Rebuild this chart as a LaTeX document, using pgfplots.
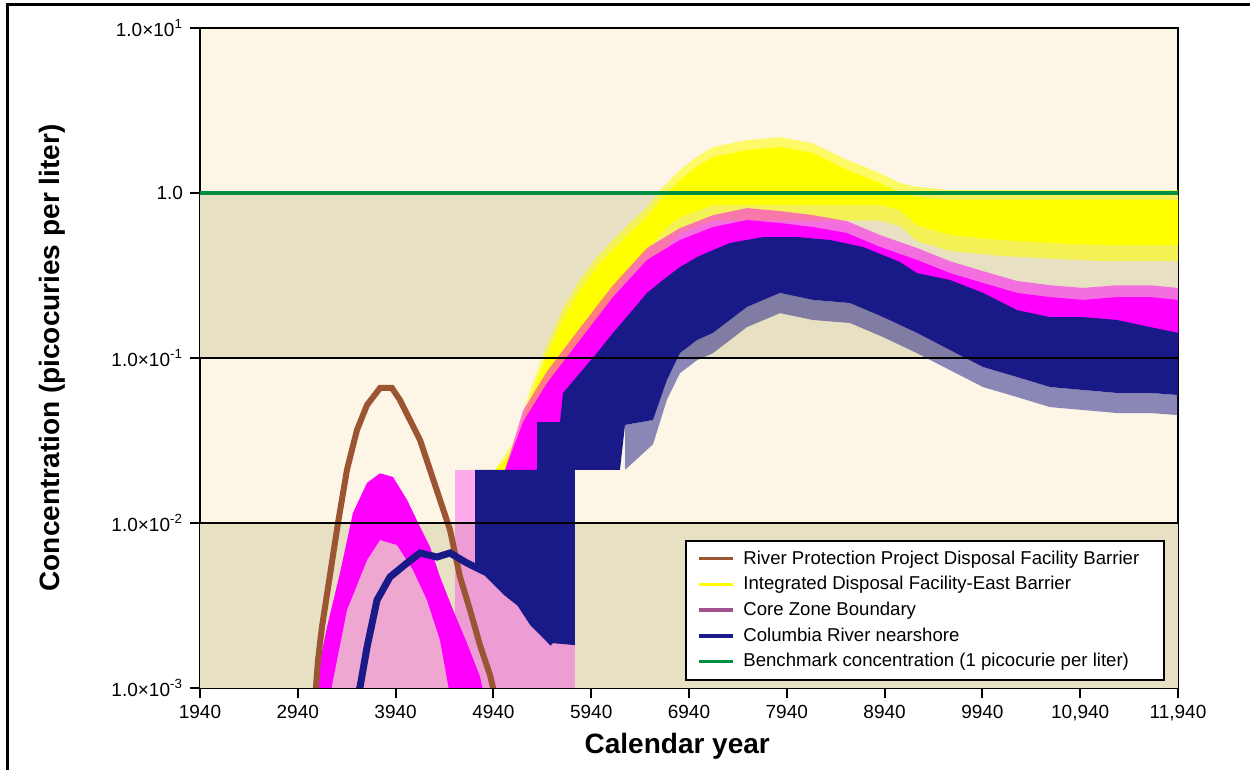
\documentclass[border=0pt]{standalone}
\usepackage{fontspec}
\setmainfont{Liberation Sans}
\usepackage{pgfplots}
\pgfplotsset{compat=1.18}

\definecolor{cream}{RGB}{253,245,229}
\definecolor{tanband}{RGB}{232,224,194}
\definecolor{rppbrown}{RGB}{155,85,50}
\definecolor{idfyellow}{RGB}{255,255,0}
\definecolor{czmag}{RGB}{255,0,255}
\definecolor{czmauve}{RGB}{160,80,140}
\definecolor{crnavy}{RGB}{25,25,135}
\definecolor{bmgreen}{RGB}{0,140,65}

\begin{document}
\begin{tikzpicture}
\begin{axis}[
  scale only axis, width=489pt, height=330pt,
  ymode=log, xmin=1940, xmax=11940, ymin=1e-3, ymax=10,
  axis background/.style={fill=cream},
  axis line style={line width=1pt, black},
  scaled x ticks=false,
  xtick={1940,2940,...,11940},
  xticklabels={1940,2940,3940,4940,5940,6940,7940,8940,9940,{10,940},{11,940}},
  ytick={1e-3,1e-2,1e-1,1,10},
  yticklabels={1.0×10\textsuperscript{-3},1.0×10\textsuperscript{-2},1.0×10\textsuperscript{-1},1.0,1.0×10\textsuperscript{1}},
  yminorticks=false,
  tick align=outside, tick pos=left, major tick length=5pt,
  tick style={black, line width=1pt},
  ticklabel style={font=\fontsize{9.5}{11}\selectfont},
  xlabel={Calendar year},
  ylabel={Concentration (picocuries per liter)},
  label style={font=\bfseries\fontsize{14}{16}\selectfont},
  xlabel style={at={(axis description cs:0.488,-0.089)}, anchor=center},
  ylabel style={at={(axis description cs:-0.151,0.5)}, anchor=center},
  legend style={at={(0.987,0.011)}, anchor=south east, draw=black, line width=1pt,
    fill=white, font=\fontsize{9.3}{11}\selectfont, row sep=0.6pt, column sep=2.5pt,
    inner xsep=5.5pt, inner ysep=3pt},
  legend cell align=left,
]
% background bands
\fill[tanband] (axis cs:1940,1e-3) rectangle (axis cs:11940,1e-2);
\fill[tanband] (axis cs:1940,1e-1) rectangle (axis cs:11940,1);

\addlegendimage{rppbrown, line width=1.7pt}
\addlegendentry{River Protection Project Disposal Facility Barrier\hspace*{5pt}}
\addlegendimage{idfyellow, line width=1.7pt}
\addlegendentry{Integrated Disposal Facility-East Barrier}
\addlegendimage{czmauve, line width=1.7pt}
\addlegendentry{Core Zone Boundary}
\addlegendimage{crnavy, line width=1.7pt}
\addlegendentry{Columbia River nearshore}
\addlegendimage{bmgreen, line width=1.7pt}
\addlegendentry{Benchmark concentration (1 picocurie per liter)}

% Integrated Disposal Facility-East Barrier: spike envelope
\addplot[fill=idfyellow, fill opacity=0.55, draw=none, forget plot] coordinates {
 (4956,0.0210) (5161,0.032) (5314,0.064) (5468,0.112) (5652,0.20)
 (5825,0.30) (5999,0.41) (6163,0.52) (6337,0.66) (6511,0.82)
 (6674,1.09) (6848,1.38) (7022,1.66) (7185,1.90) (7533,2.09)
 (7870,2.18) (8208,2.00) (8556,1.59) (8893,1.32) (9097,1.15)
 (9271,1.09) (9609,1.04) (10120,1.04) (10631,1.04) (11142,1.04) (11940,1.04)
 (11940,0.387) (11142,0.387) (10631,0.40) (10120,0.415) (9609,0.445)
 (9271,0.51) (9097,0.63) (8893,0.68) (7185,0.68) (6848,0.57)
 (6511,0.36) (6337,0.285) (6163,0.187) (5999,0.123) (5825,0.083)
 (5652,0.053) (5468,0.033) (5314,0.0210)
} -- cycle;
% Integrated Disposal Facility-East Barrier: dense band
\addplot[fill=idfyellow, draw=none, forget plot] coordinates {
 (4956,0.0210) (5161,0.0277) (5314,0.0556) (5468,0.0973) (5652,0.170)
 (5825,0.258) (5999,0.356) (6163,0.451) (6337,0.572) (6511,0.715)
 (6674,0.946) (6848,1.20) (7022,1.44) (7185,1.65) (7533,1.82)
 (7870,1.90) (8208,1.75) (8556,1.38) (8893,1.15) (9097,1.00)
 (9271,0.946) (9609,0.907) (10120,0.907) (10631,0.907) (11142,0.907) (11940,0.907)
 (11940,0.484) (11142,0.484) (10631,0.498) (10120,0.519) (9609,0.556)
 (9271,0.640) (9097,0.789) (8893,0.846) (8586,0.846) (8208,0.846)
 (7870,0.846) (7533,0.846) (7185,0.846) (6848,0.715) (6715,0.622)
 (6511,0.451) (6337,0.356) (6163,0.234) (5999,0.154) (5825,0.104)
 (5652,0.0667) (5468,0.0409) (5314,0.0241) (5212,0.0210)
} -- cycle;

% Core Zone Boundary: sparse bars and spikes
\addplot[fill=czmag, fill opacity=0.3, draw=none, forget plot] coordinates {
 (4547,0.0210) (5774,0.0210) (5774,9e-4) (4547,9e-4)
} -- cycle;
\addplot[fill=czmag, fill opacity=0.25, draw=none, forget plot] coordinates {
 (3095,9e-4) (3239,2.34e-3) (3372,4.98e-3) (3504,1.15e-2) (3648,1.75e-2)
 (3781,2.0e-2) (3913,1.9e-2) (4057,1.38e-2) (4190,9.46e-3) (4292,7.16e-3)
 (4394,4.71e-3) (4527,2.97e-3) (4670,1.87e-3) (4803,1.17e-3) (4844,9e-4)
} -- cycle;
% Core Zone Boundary: first peak
\addplot[fill=czmag, draw=none, forget plot] coordinates {
 (3095,9e-4) (3239,2.34e-3) (3372,4.98e-3) (3504,1.15e-2) (3648,1.75e-2)
 (3781,2.0e-2) (3913,1.9e-2) (4057,1.38e-2) (4190,9.46e-3) (4292,7.16e-3)
 (4394,4.71e-3) (4527,2.97e-3) (4670,1.87e-3) (4803,1.17e-3) (4844,9e-4)
 (4496,9e-4) (4394,1.95e-3) (4261,3.41e-3) (4118,5.19e-3) (3954,7.36e-3)
 (3781,7.89e-3) (3648,5.97e-3) (3443,2.97e-3) (3269,9e-4)
} -- cycle;
% Core Zone Boundary: spike envelope of the second rise
\addplot[fill=czmag, fill opacity=0.5, draw=none, forget plot] coordinates {
 (5059,0.0210) (5243,0.048) (5488,0.083) (5825,0.152) (6163,0.276)
 (6511,0.464) (6848,0.613) (7185,0.734) (7533,0.81) (7870,0.777)
 (8208,0.734) (8556,0.675) (8893,0.556) (9271,0.464) (9609,0.386)
 (9946,0.336) (10294,0.293) (10631,0.276) (10969,0.266) (11316,0.276)
 (11654,0.276) (11940,0.266)
 (11940,0.120) (11654,0.1285) (11316,0.138) (10969,0.148) (10631,0.148)
 (10294,0.170) (9946,0.195) (9609,0.225) (9271,0.258) (8924,0.277)
 (8586,0.318) (8208,0.393) (7870,0.409) (7533,0.393) (7185,0.318)
 (6848,0.258) (6511,0.170) (6163,0.104) (5825,0.0614) (5621,0.0409)
 (5386,0.0210)
} -- cycle;
% Core Zone Boundary: dense band of the second rise
\addplot[fill=czmag, draw=none, forget plot] coordinates {
 (5059,0.0210) (5243,0.0409) (5488,0.0705) (5825,0.1285) (6163,0.234)
 (6511,0.393) (6848,0.519) (7185,0.622) (7533,0.686) (7870,0.658)
 (8208,0.622) (8556,0.572) (8893,0.471) (9271,0.393) (9609,0.327)
 (9946,0.285) (10294,0.248) (10631,0.234) (10969,0.225) (11316,0.234)
 (11654,0.234) (11940,0.225)
 (11940,0.120) (11654,0.1285) (11316,0.138) (10969,0.148) (10631,0.148)
 (10294,0.170) (9946,0.195) (9609,0.225) (9271,0.258) (8924,0.277)
 (8586,0.318) (8208,0.393) (7870,0.409) (7533,0.393) (7185,0.318)
 (6848,0.258) (6511,0.170) (6163,0.104) (5825,0.0614) (5621,0.0409)
 (5386,0.0210)
} -- cycle;

% River Protection Project Disposal Facility Barrier
\addplot[rppbrown, line width=3pt, forget plot] coordinates {
 (3116,8.5e-4) (3147,1.48e-3) (3187,2.34e-3) (3269,4.84e-3) (3351,1.0e-2)
 (3443,0.0210) (3545,0.0366) (3648,0.0519) (3781,0.0658) (3903,0.0658)
 (3985,0.0556) (4190,0.0318) (4292,0.0210) (4394,0.0138) (4496,9.1e-3)
 (4599,4.71e-3) (4701,2.97e-3) (4803,1.82e-3) (4905,1.2e-3) (4956,9e-4)
};

% Columbia River nearshore: downward spikes
\addplot[fill=crnavy, fill opacity=0.5, draw=none, forget plot] coordinates {
 (6286,0.0393) (6572,0.0421) (6715,0.0736) (6848,0.1072) (7022,0.1285)
 (7185,0.142) (7533,0.204) (7870,0.248) (8208,0.225) (8586,0.2154)
 (8924,0.177) (9271,0.142) (9609,0.1117) (9946,0.0882) (10294,0.0767)
 (10631,0.0667) (10969,0.0640) (11316,0.0614) (11654,0.0614) (11940,0.0597)
 (11940,0.0451) (11654,0.0464) (11316,0.0464) (10969,0.0484) (10631,0.0504)
 (10294,0.0580) (9946,0.0667) (9609,0.0844) (9271,0.107) (8924,0.134)
 (8586,0.163) (8208,0.170) (7870,0.187) (7533,0.154) (7185,0.107)
 (7022,0.097) (6848,0.081) (6715,0.056) (6572,0.030) (6286,0.0210)
} -- cycle;
% Columbia River nearshore: bars and dense band of the main rise
\addplot[fill=crnavy, draw=none, forget plot] coordinates {
 (4752,0.0210) (5386,0.0210) (5386,0.0409) (5621,0.0409) (5652,0.0614)
 (5825,0.0811) (5999,0.1072) (6163,0.142) (6337,0.187) (6511,0.248)
 (6674,0.297) (6848,0.356) (7022,0.409) (7185,0.451) (7359,0.498)
 (7697,0.541) (8044,0.541) (8382,0.519) (8719,0.471) (9097,0.382)
 (9271,0.327) (9609,0.297) (9946,0.248) (10294,0.195) (10631,0.177)
 (10969,0.177) (11316,0.170) (11654,0.154) (11940,0.142)
 (11940,0.0597) (11654,0.0614) (11316,0.0614) (10969,0.0640) (10631,0.0667)
 (10294,0.0767) (9946,0.0882) (9609,0.1117) (9271,0.142) (8924,0.177)
 (8586,0.2154) (8208,0.225) (7870,0.248) (7533,0.204) (7185,0.142)
 (7022,0.1285) (6848,0.1072) (6715,0.0736) (6572,0.0421) (6286,0.0393)
 (6234,0.0210) (5774,0.0210) (5774,1.82e-3) (5549,1.87e-3) (5345,2.48e-3)
 (5079,3.77e-3) (4875,4.98e-3) (4752,5.19e-3)
} -- cycle;
% Columbia River nearshore: first rise
\addplot[crnavy, line width=3.5pt, forget plot] coordinates {
 (3525,8.5e-4) (3576,1.01e-3) (3648,1.77e-3) (3750,3.41e-3) (3883,4.71e-3)
 (4057,5.72e-3) (4190,6.58e-3) (4363,6.22e-3) (4496,6.58e-3) (4670,5.72e-3)
 (4875,4.98e-3) (5079,3.77e-3) (5212,3.27e-3) (5345,2.48e-3) (5488,2.04e-3)
 (5549,1.87e-3)
};

% decade lines
\draw[black, line width=1pt] (axis cs:1940,1e-2) -- (axis cs:11940,1e-2);
\draw[black, line width=1pt] (axis cs:1940,1e-1) -- (axis cs:11940,1e-1);
\draw[black, line width=1pt] (axis cs:1940,1) -- (axis cs:11940,1);

% Benchmark concentration
\addplot[bmgreen, line width=2.2pt, forget plot] coordinates {(1940,1) (11940,1)};
\end{axis}
\draw[line width=1.5pt] (-96pt,-45pt) -- (-96pt,341.5pt) -- (530pt,341.5pt);
\pgfresetboundingbox
\useasboundingbox (-100pt,-41pt) rectangle (525pt,344pt);
\end{tikzpicture}
\end{document}
